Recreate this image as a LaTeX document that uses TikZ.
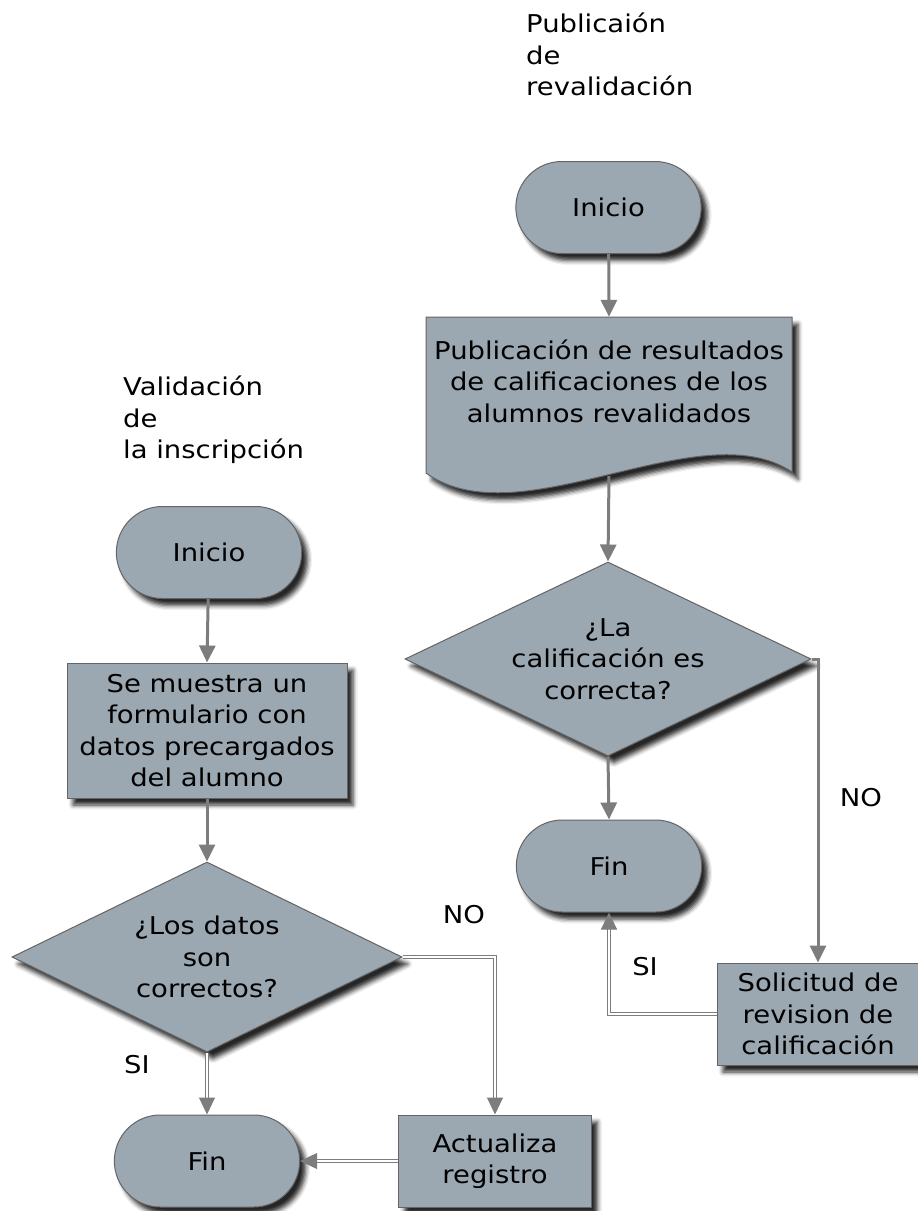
\documentclass[tikz,border=0pt]{standalone}
\usepackage{fontspec}
\setmainfont{DejaVu Sans}[FakeStretch=1.12]
\usetikzlibrary{shapes.geometric,shapes.misc,arrows.meta,shadows.blur}
\definecolor{boxfill}{RGB}{155,168,178}
\definecolor{boxedge}{RGB}{100,100,100}
\definecolor{linegray}{RGB}{125,125,125}

\begin{document}
\begin{tikzpicture}[x=1pt,y=-1pt,
  every node/.style={font=\fontsize{24.5}{31.5}\selectfont},
  boxshadow/.style={blur shadow={shadow xshift=6pt,shadow yshift=-7pt,shadow blur radius=4.5pt,shadow opacity=85}},
  terminal/.style={rounded rectangle, draw=boxedge, fill=boxfill, line width=1pt,
    minimum width=192pt, minimum height=92pt, boxshadow},
  process/.style={rectangle, draw=boxedge, fill=boxfill, line width=1pt,
    align=center, inner sep=0pt, boxshadow},
  decision/.style={diamond, draw=boxedge, fill=boxfill, line width=1pt,
    align=center, inner sep=0pt, boxshadow},
  tip/.style={-{Triangle[length=17pt,width=16pt]}},
  conn/.style={draw=linegray, line width=3pt, tip},
  dconn/.style={draw=linegray, line width=1pt, double=white, double distance=1.4pt, tip},
  title/.style={anchor=north west, align=left, inner sep=0pt},
  lbl/.style={inner sep=0pt}
]
\useasboundingbox (0,0) rectangle (918,1211);

% ---------- Publicacion de revalidacion ----------
\node[title] (tpub) at (526,13) {Publicaión\\de\\revalidación};

\node[terminal] (rini) at (608.5,207.5) {Inicio};

% document shape with wavy bottom edge
\path[draw=boxedge, fill=boxfill, line width=1pt, boxshadow]
  (426,317) -- (792,317) -- (792,472)
  .. controls (700,410) and (520,540) .. (426,473) -- cycle;
\node[inner sep=0pt, minimum width=366pt, minimum height=159pt] (doc) at (609,396.5) {};
\node[align=center, inner sep=0pt] (doctext) at (609,381)
  {Publicación de resultados\\de calificaciones de los\\alumnos revalidados};

\node[decision, minimum width=406pt, minimum height=194pt, aspect=2.09] (rdia) at (608,659)
  {¿La\\calificación es\\correcta?};

\node[terminal] (rfin) at (609,866) {Fin};

\node[process, minimum width=202pt, minimum height=102pt] (sol) at (818,1014)
  {Solicitud de\\revision de\\calificación};

\node[lbl] (rno) at (861,798) {NO};
\node[lbl] (rsi) at (645,967) {SI};

\draw[conn] (rini) -- (doc.north);
\draw[conn] (doc.south) -- (rdia.north);
\draw[conn] (rdia.south) -- (rfin.north);
\draw[conn] (rdia.east) -| (sol.north);
\draw[dconn] (sol.west) -| (rfin.south);

% ---------- Validacion de la inscripcion ----------
\node[title] (tval) at (123,376) {Validación\\de\\la inscripción};

\node[terminal] (lini) at (209,552.5) {Inicio};

\node[process, minimum width=280pt, minimum height=135pt] (form) at (207,730.5)
  {Se muestra un\\formulario con\\datos precargados\\del alumno};

\node[decision, minimum width=390pt, minimum height=190pt, aspect=2.05] (ldia) at (207,957)
  {¿Los datos\\son\\correctos?};

\node[terminal] (lfin) at (207,1161) {Fin};

\node[process, minimum width=193pt, minimum height=92pt] (act) at (495,1161)
  {Actualiza\\registro};

\node[lbl] (lno) at (464,915) {NO};
\node[lbl] (lsi) at (137,1065) {SI};

\draw[conn] (lini) -- (form.north);
\draw[conn] (form.south) -- (ldia.north);
\draw[dconn] (ldia.south) -- (lfin.north);
\draw[dconn] (ldia.east) -| (act.north);
\draw[dconn] (act.west) -- (lfin.east);

\end{tikzpicture}
\end{document}
